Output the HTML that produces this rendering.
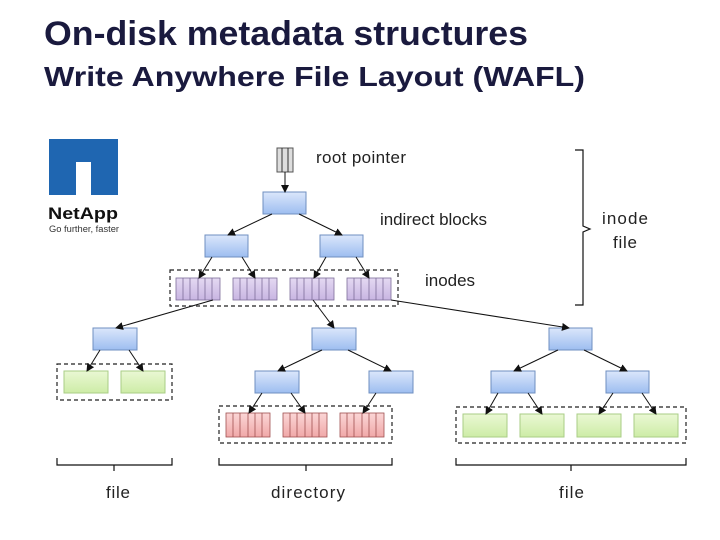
<!DOCTYPE html>
<html><head><meta charset="utf-8"><style>
body{margin:0;background:#fff;width:720px;height:540px;overflow:hidden}
svg{display:block}
</style></head><body>
<svg width="720" height="540" viewBox="0 0 720 540" xmlns="http://www.w3.org/2000/svg" font-family="Liberation Sans, sans-serif">
<defs>
<linearGradient id="b" x1="0" y1="0" x2="0" y2="1"><stop offset="0" stop-color="#dbe7fb"/><stop offset="1" stop-color="#9dbdf0"/></linearGradient>
<linearGradient id="g" x1="0" y1="0" x2="0" y2="1"><stop offset="0" stop-color="#eaf8d4"/><stop offset="1" stop-color="#cdeca6"/></linearGradient>
<linearGradient id="p" x1="0" y1="0" x2="0" y2="1"><stop offset="0" stop-color="#e4d9f2"/><stop offset="1" stop-color="#c8b5e2"/></linearGradient>
<linearGradient id="r" x1="0" y1="0" x2="0" y2="1"><stop offset="0" stop-color="#fbd6d6"/><stop offset="1" stop-color="#f0a8a8"/></linearGradient>
<marker id="a" markerWidth="8" markerHeight="8" refX="7" refY="4" orient="auto" markerUnits="userSpaceOnUse"><path d="M0,0 L8,4 L0,8 z" fill="#111"/></marker>
</defs>
<text x="44" y="45" font-size="34" font-weight="bold" fill="#1a1a3e" textLength="484" lengthAdjust="spacingAndGlyphs">On-disk metadata structures</text>
<text x="44" y="86" font-size="28" font-weight="bold" fill="#1a1a3e" textLength="541" lengthAdjust="spacingAndGlyphs">Write Anywhere File Layout (WAFL)</text>
<rect x="49" y="139" width="69" height="56" fill="#1f66b1"/>
<rect x="76" y="162" width="15" height="33" fill="#fff"/>
<text x="48" y="219" font-size="17" font-weight="bold" fill="#111" textLength="70" lengthAdjust="spacingAndGlyphs">NetApp</text>
<text x="49" y="232" font-size="9" fill="#333" textLength="70" lengthAdjust="spacingAndGlyphs">Go further, faster</text>
<g fill="none" stroke="#111" stroke-width="1.2">
<path d="M575,150 H583 V226 L590,229 L583,232 V305 H575"/>
<path d="M57,458 V465 H172 V458 M114,465 V471"/>
<path d="M219,458 V465 H392 V458 M306,465 V471"/>
<path d="M456,458 V465 H686 V458 M571,465 V471"/>
</g>
<g font-size="17" fill="#222" lengthAdjust="spacingAndGlyphs">
<text x="316" y="163" textLength="90">root pointer</text>
<text x="380" y="225" textLength="107">indirect blocks</text>
<text x="425" y="286" textLength="50">inodes</text>
<text x="602" y="224" textLength="46">inode</text>
<text x="613" y="248" textLength="24">file</text>
<text x="106" y="498" textLength="24">file</text>
<text x="271" y="498" textLength="74">directory</text>
<text x="559" y="498" textLength="25">file</text>
</g>
<g fill="none" stroke="#222" stroke-width="1.2" stroke-dasharray="4,3">
<rect x="170" y="270" width="228" height="36"/>
<rect x="57" y="364" width="115" height="36"/>
<rect x="219" y="406" width="173" height="37"/>
<rect x="456" y="407" width="230" height="36"/>
</g>
<rect x="277" y="148" width="16" height="24" fill="#ddd" stroke="#555"/>
<line x1="282" y1="148" x2="282" y2="172" stroke="#333"/><line x1="288" y1="148" x2="288" y2="172" stroke="#333"/>
<g fill="url(#b)" stroke="#6f8fc0">
<rect x="263" y="192" width="43" height="22"/>
<rect x="205" y="235" width="43" height="22"/>
<rect x="320" y="235" width="43" height="22"/>
<rect x="93" y="328" width="44" height="22"/>
<rect x="312" y="328" width="44" height="22"/>
<rect x="255" y="371" width="44" height="22"/>
<rect x="369" y="371" width="44" height="22"/>
<rect x="549" y="328" width="43" height="22"/>
<rect x="491" y="371" width="44" height="22"/>
<rect x="606" y="371" width="43" height="22"/>
</g>
<g fill="url(#g)" stroke="#a9cd86">
<rect x="64" y="371" width="44" height="22"/>
<rect x="121" y="371" width="44" height="22"/>
<rect x="463" y="414" width="44" height="23"/>
<rect x="520" y="414" width="44" height="23"/>
<rect x="577" y="414" width="44" height="23"/>
<rect x="634" y="414" width="44" height="23"/>
</g>
<g stroke="#7d6d99" stroke-width="0.8">
<g fill="url(#p)">
<rect x="176" y="278" width="44" height="22"/><rect x="233" y="278" width="44" height="22"/>
<rect x="290" y="278" width="44" height="22"/><rect x="347" y="278" width="44" height="22"/>
</g>
<path d="M183,278v22M190,278v22M198,278v22M205,278v22M212,278v22 M240,278v22M247,278v22M255,278v22M262,278v22M269,278v22 M297,278v22M304,278v22M312,278v22M319,278v22M326,278v22 M354,278v22M361,278v22M369,278v22M376,278v22M383,278v22"/>
</g>
<g stroke="#a05050" stroke-width="0.8">
<g fill="url(#r)">
<rect x="226" y="413" width="44" height="24"/><rect x="283" y="413" width="44" height="24"/><rect x="340" y="413" width="44" height="24"/>
</g>
<path d="M233,413v24M240,413v24M248,413v24M255,413v24M262,413v24 M290,413v24M297,413v24M305,413v24M312,413v24M319,413v24 M347,413v24M354,413v24M362,413v24M369,413v24M376,413v24"/>
</g>
<g stroke="#111" stroke-width="1" marker-end="url(#a)">
<line x1="285" y1="172" x2="285" y2="192"/>
<line x1="272" y1="214" x2="228" y2="235"/>
<line x1="299" y1="214" x2="342" y2="235"/>
<line x1="212" y1="257" x2="199" y2="278"/>
<line x1="242" y1="257" x2="255" y2="278"/>
<line x1="326" y1="257" x2="314" y2="278"/>
<line x1="356" y1="257" x2="369" y2="278"/>
<line x1="213" y1="300" x2="116" y2="328"/>
<line x1="313" y1="300" x2="334" y2="328"/>
<line x1="391" y1="300" x2="569" y2="328"/>
<line x1="100" y1="350" x2="87" y2="371"/>
<line x1="129" y1="350" x2="143" y2="371"/>
<line x1="322" y1="350" x2="278" y2="371"/>
<line x1="348" y1="350" x2="391" y2="371"/>
<line x1="262" y1="393" x2="249" y2="413"/>
<line x1="291" y1="393" x2="305" y2="413"/>
<line x1="376" y1="393" x2="363" y2="413"/>
<line x1="558" y1="350" x2="514" y2="371"/>
<line x1="584" y1="350" x2="627" y2="371"/>
<line x1="498" y1="393" x2="486" y2="414"/>
<line x1="528" y1="393" x2="542" y2="414"/>
<line x1="613" y1="393" x2="599" y2="414"/>
<line x1="642" y1="393" x2="656" y2="414"/>
</g>
</svg>
</body></html>
